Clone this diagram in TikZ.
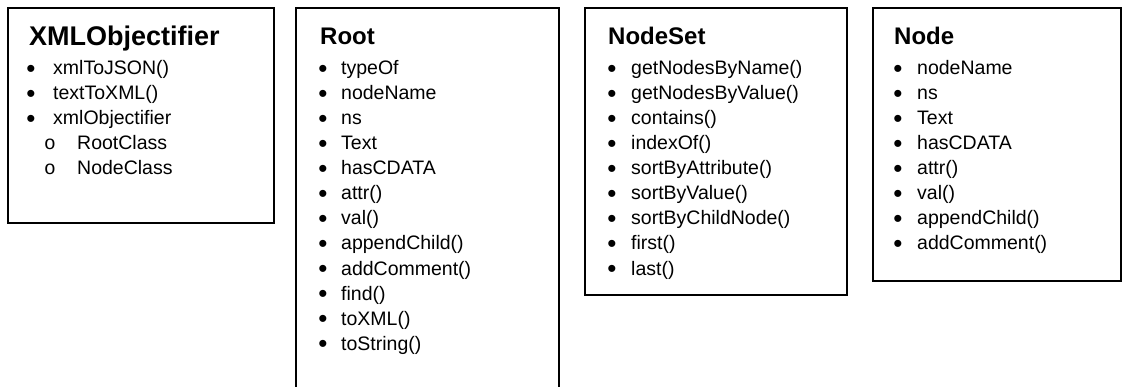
\documentclass[tikz,border=0pt]{standalone}
\usepackage{fontspec}
\setmainfont{Liberation Sans}
\newfontfamily\monofam{Liberation Mono}
\begin{document}
\begin{tikzpicture}[x=1pt,y=-1pt]
\path[use as bounding box, clip] (0,0) rectangle (1123,387);
\tikzset{
  classbox/.style={draw, line width=2pt, anchor=north west, inner sep=0pt, outer sep=0pt},
  classtitle/.style={anchor=base west, inner sep=0pt, font=\fontsize{24}{28}\selectfont\bfseries},
  entry/.style={anchor=base west, inner sep=0pt, font=\fontsize{19.5}{25}\selectfont},
  dot/.style={anchor=base, inner sep=0pt, font=\fontsize{26}{25}\selectfont},
  subdot/.style={anchor=base, inner sep=0pt, font=\fontsize{19.5}{25}\selectfont\monofam},
}
% class boxes
\node[classbox, minimum width=266pt, minimum height=215pt] (objbox)  at (8,8) {};
\node[classbox, minimum width=263pt, minimum height=420pt] (rootbox) at (296,8) {};
\node[classbox, minimum width=262pt, minimum height=287pt] (setbox)  at (585,8) {};
\node[classbox, minimum width=248pt, minimum height=273pt] (nodebox) at (873,8) {};

% XMLObjectifier
\node[classtitle, font=\fontsize{27}{30}\selectfont\bfseries] (objtitle) at (29,46) {XMLObjectifier};
\foreach \txt [count=\i from 0] in {xmlToJSON(),textToXML(),xmlObjectifier} {
  \node[dot] (objdot\i) at (31,77.5+25*\i) {•};
  \node[entry] (objitem\i) at (53,75+25*\i) {\txt};
}
\foreach \txt [count=\i from 3] in {RootClass,NodeClass} {
  \node[subdot] (objdot\i) at (50,75+25*\i) {o};
  \node[entry] (objitem\i) at (77,75+25*\i) {\txt};
}

% Root
\node[classtitle] (roottitle) at (320,45) {Root};
\foreach \txt [count=\i from 0] in {typeOf,nodeName,ns,Text,hasCDATA,attr(),val(),appendChild(),addComment(),find(),toXML(),toString()} {
  \node[dot] (rootdot\i) at (323,77.5+25*\i) {•};
  \node[entry] (rootitem\i) at (341,75+25*\i) {\txt};
}

% NodeSet
\node[classtitle] (settitle) at (608,45) {NodeSet};
\foreach \txt [count=\i from 0] in {getNodesByName(),getNodesByValue(),contains(),indexOf(),sortByAttribute(),sortByValue(),sortByChildNode(),first(),last()} {
  \node[dot] (setdot\i) at (612,77.5+25*\i) {•};
  \node[entry] (setitem\i) at (631,75+25*\i) {\txt};
}

% Node
\node[classtitle] (nodetitle) at (894,45) {Node};
\foreach \txt [count=\i from 0] in {nodeName,ns,Text,hasCDATA,attr(),val(),appendChild(),addComment()} {
  \node[dot] (nodedot\i) at (898,77.5+25*\i) {•};
  \node[entry] (nodeitem\i) at (917,75+25*\i) {\txt};
}
\end{tikzpicture}
\end{document}
